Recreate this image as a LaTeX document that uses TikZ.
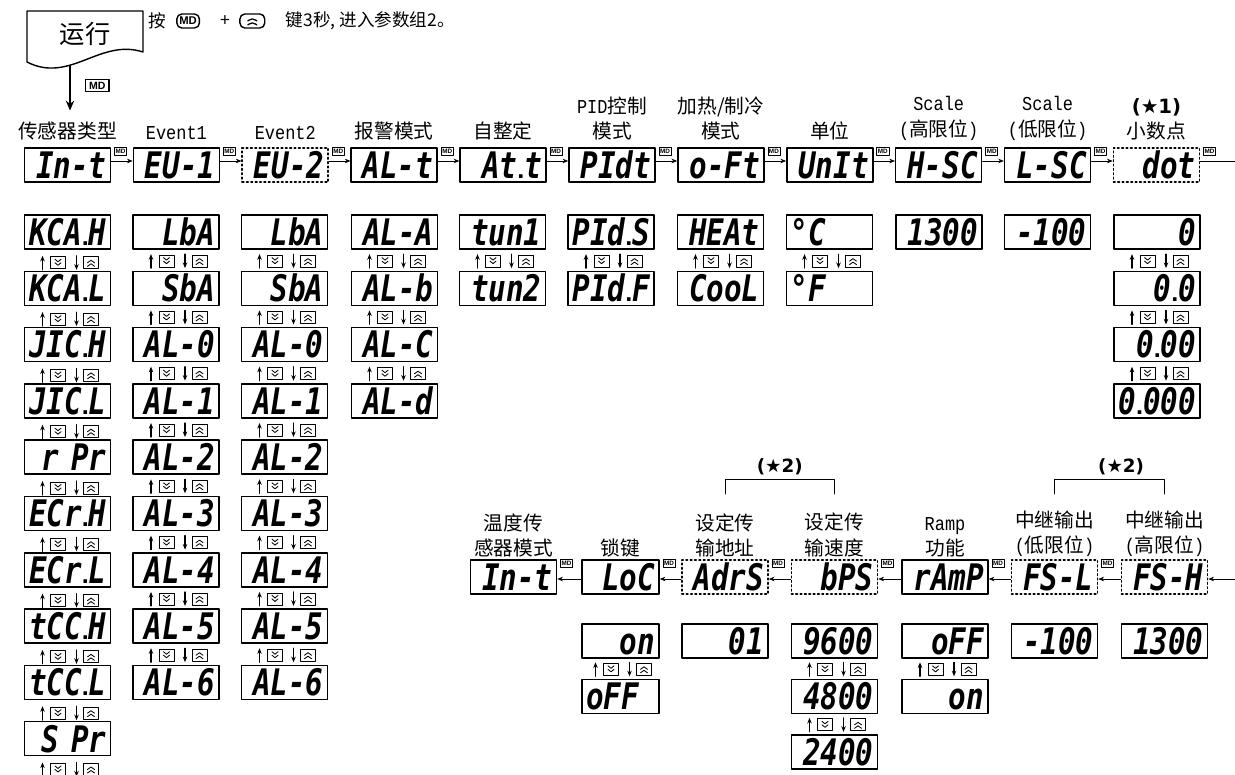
\documentclass[tikz,border=0pt]{standalone}
\usepackage{fontspec}
\setmonofont{Liberation Mono}[FakeStretch=0.86]
\newfontfamily\cjk{Noto Sans CJK SC}
\newfontfamily\segfont{DejaVu Sans Mono Bold Oblique}[FakeStretch=0.8]
\newfontfamily\arial{Liberation Sans}
\newfontfamily\dejavu{DejaVu Sans}
\usetikzlibrary{positioning,arrows.meta}
\newcommand{\segdot}{{\arial\bfseries\fontsize{18}{18}\selectfont.}}
\newcommand{\lat}[1]{{\ttfamily\fontsize{14}{18}\selectfont #1}}

\begin{document}
\begin{tikzpicture}[x=0.025cm, y=-0.025cm, line join=round, line cap=round,
    >={Stealth[length=4pt,width=3.2pt]},
    disp/.style={draw, line width=1.1pt, minimum height=0.85cm, text width=1.95cm,
      inner xsep=0.1cm, inner ysep=0pt, text height=19pt, text depth=0pt, align=right,
      font=\segfont\fontsize{26}{26}\selectfont},
    displ/.style={disp, align=left},
    dispd/.style={disp, dotted, line width=1.2pt},
    dispn/.style={disp, text width=1.725cm},
    lbl/.style={font=\cjk\fontsize{14}{18}\selectfont, align=center, inner sep=0pt},
    captxt/.style={font=\cjk\fontsize{12.5}{15}\selectfont, inner sep=0pt},
    startxt/.style={font=\dejavu\bfseries\fontsize{13}{15}\selectfont, inner sep=0pt},
    md/.style={draw, line width=0.5pt, inner xsep=0.8pt, inner ysep=1.3pt,
      font=\arial\bfseries\fontsize{4.5}{5}\selectfont},
    mdbig/.style={draw, line width=0.8pt, inner xsep=2.5pt, inner ysep=1.8pt,
      font=\arial\bfseries\fontsize{7.5}{8}\selectfont},
    keybox/.style={draw, rounded corners=3.5pt, line width=1pt, inner xsep=1.8pt, inner ysep=2.2pt,
      font=\arial\bfseries\fontsize{8}{8}\selectfont},
    upkey/.style={draw, rounded corners=3.5pt, line width=1pt, minimum width=0.62cm, minimum height=0.35cm,
      path picture={\draw[line width=0.9pt, shift={(path picture bounding box.center)}]
        (-4.5,0) -- (0,-4) -- (4.5,0) (-4.5,4) -- (0,0) -- (4.5,4);}},
    ud/.pic={
      \draw[line width=0.8pt, ->] (-25,7) -- (-25,-7);
      \draw[line width=0.8pt, ->] (9,-7) -- (9,7);
      \draw[line width=0.6pt] (-17,-6) rectangle (-2,6) (16,-6) rectangle (31,6);
      \draw[line width=0.6pt] (-12.5,-3.5) -- (-9.5,-1) -- (-6.5,-3.5) (-12.5,0) -- (-9.5,2.5) -- (-6.5,0)
        (20,3.5) -- (23.5,1) -- (27,3.5) (20,0) -- (23.5,-2.5) -- (27,0);
    }]
\useasboundingbox (0,0) rectangle (1235,775);

% run state and key combination
\draw[line width=1pt] (27,62) -- (27,11) -- (143,11) -- (143,52) .. controls (100,38) and (70,84) .. (27,62);
\node[font=\cjk\fontsize{18}{18}\selectfont] (run) at (85,34) {运行};
\node[captxt, anchor=west] (c1) at (148,21) {按};
\node[keybox, right=0.25cm of c1] (kmd) {MD};
\node[captxt, right=0.5cm of kmd] (plus) {+};
\node[upkey, right=0.22cm of plus] (kup) {};
\node[captxt, right=0.5cm of kup] (c2) {键3秒, 进入参数组2。};

% parameter row
\foreach \txt/\st [count=\i from 0] in {In-t/disp, EU-1/disp, EU-2/dispd, AL-t/disp, At\segdot t/disp,
    PIdt/disp, o-Ft/disp, UnIt/disp, H-SC/disp, L-SC/disp, dot/dispd}
  \node[\st] (t\i) at (67.5+108.9*\i,165) {\txt};
\foreach \lab [count=\i from 0] in {传感器类型, \lat{Event1}, \lat{Event2}, 报警模式, 自整定,
    \lat{PID}控制\\模式, 加热/制冷\\模式, 单位, \lat{Scale}\\\lat{(}高限位\lat{)},
    \lat{Scale}\\\lat{(}低限位\lat{)}, {\dejavu\bfseries (★1)}\\小数点}
  \node[lbl, above=0.17cm of t\i] (L\i) {\lab};
\foreach \i [evaluate=\i as \j using int(\i+1)] in {0,...,9}{
  \draw[->] (t\i.east |- 0,161) -- (t\j.west |- 0,161);
  \node[md, anchor=north west] (m\i) at ([xshift=2pt]t\i.north east) {MD};
}
\coordinate (tout) at (1235,161);
\draw (t10.east |- tout) -- (tout);
\node[md, anchor=north west] (m10) at ([xshift=2pt]t10.north east) {MD};
\coordinate (runout) at (70,66);
\draw[-{Stealth[length=7pt,width=6pt]}, line width=0.8pt, shorten >=0.28cm] (runout) -- (runout |- L0.north)
  node[mdbig, pos=0.35, right=0.375cm] (mdrun) {MD};

% settings
\foreach \txt [count=\k from 0] in {KCA\segdot H, KCA\segdot L, JIC\segdot H, JIC\segdot L, r~Pr,
    ECr\segdot H, ECr\segdot L, tCC\segdot H, tCC\segdot L, S~Pr}{
  \node[disp] (s\k) at (67.5,232+56.3*\k) {\txt};
  \pic[yshift=-0.325cm] at (s\k.south) {ud};
}
\foreach \txt [count=\k from 0] in {LbA, SbA, AL-0, AL-1, AL-2, AL-3, AL-4, AL-5, AL-6}{
  \node[disp] (ea\k) at (176,232+56.3*\k) {\txt};
  \ifnum\k>0 \pic[yshift=0.235cm] at (ea\k.north) {ud}; \fi
}
\foreach \txt [count=\k from 0] in {LbA, SbA, AL-0, AL-1, AL-2, AL-3, AL-4, AL-5, AL-6}{
  \node[disp] (eb\k) at (284.5,232+56.3*\k) {\txt};
  \ifnum\k>0 \pic[yshift=0.235cm] at (eb\k.north) {ud}; \fi
}
\foreach \txt [count=\k from 0] in {AL-A, AL-b, AL-C, AL-d}{
  \node[disp] (al\k) at (394.5,232+56.3*\k) {\txt};
  \ifnum\k>0 \pic[yshift=0.235cm] at (al\k.north) {ud}; \fi
}
\node[disp] (tu0) at (502.5,232) {tun1};
\node[disp] (tu1) at (502.5,288.3) {tun2};
\node[disp] (pd0) at (611,232) {PId\segdot S};
\node[disp] (pd1) at (611,288.3) {PId\segdot F};
\node[disp] (ht0) at (720.5,232) {HEAt};
\node[disp] (ht1) at (720.5,288.3) {CooL};
\node[displ] (un0) at (829.5,232) {°C};
\node[displ] (un1) at (829.5,288.3) {°F};
\foreach \n in {tu1, pd1, ht1, un1}
  \pic[yshift=0.235cm] at (\n.north) {ud};
\node[disp] (hs) at (939,232) {1300};
\node[disp] (ls) at (1047.5,232) {-100};
\foreach \txt [count=\k from 0] in {0, 0\segdot 0, 0\segdot 00, 0\segdot 000}{
  \node[disp] (dp\k) at (1157,232+56.3*\k) {\txt};
  \ifnum\k>0 \pic[yshift=0.235cm] at (dp\k.north) {ud}; \fi
}

% second row, right to left
\foreach \txt/\x/\st [count=\i from 0] in {In-t/513.5/disp, LoC/620.5/dispn, AdrS/725/dispd, bPS/834.5/dispd,
    rAmP/945/disp, FS-L/1054.5/dispd, FS-H/1164.5/dispd}
  \node[\st] (r\i) at (\x,577) {\txt};
\foreach \lab [count=\i from 0] in {温度传\\感器模式, 锁键, 设定传\\输地址, 设定传\\输速度, \lat{Ramp}\\功能,
    中继输出\\\lat{(}低限位\lat{)}, 中继输出\\\lat{(}高限位\lat{)}}
  \node[lbl, above=0.05cm of r\i] (B\i) {\lab};
\coordinate (bin) at (1235,579);
\draw[->] (bin) -- (r6.east |- bin);
\foreach \i [evaluate=\i as \j using int(\i+1)] in {0,...,5}{
  \draw[->] (r\j.west |- bin) -- (r\i.east |- bin);
  \node[md, anchor=north west] (n\i) at ([xshift=2pt]r\i.north east) {MD};
}
\draw[line width=0.7pt] (B2.north |- 0,494) -- (B2.north |- 0,479) -- (B3.north |- 0,479)
  node[startxt, pos=0.5, above=0.1cm] (st1) {(★2)} -- (B3.north |- 0,494);
\draw[line width=0.7pt] (B5.north |- 0,494) -- (B5.north |- 0,479) -- (B6.north |- 0,479)
  node[startxt, pos=0.5, above=0.1cm, xshift=0.29cm] (st2) {(★2)} -- (B6.north |- 0,494);

\node[dispn] (lk0) at (620.5,641) {on};
\node[dispn, align=left] (lk1) at (620.5,696.5) {oFF};
\pic[yshift=0.235cm] at (lk1.north) {ud};
\node[disp] (ad0) at (725,641) {01};
\foreach \txt [count=\k from 0] in {9600, 4800, 2400}{
  \node[disp] (bd\k) at (834.5,641+55.5*\k) {\txt};
  \ifnum\k>0 \pic[yshift=0.235cm] at (bd\k.north) {ud}; \fi
}
\node[disp] (rp0) at (945,641) {oFF};
\node[disp] (rp1) at (945,696.5) {on};
\pic[yshift=0.235cm] at (rp1.north) {ud};
\node[disp] (fl0) at (1054.5,641) {-100};
\node[disp] (fh0) at (1164.5,641) {1300};
\end{tikzpicture}
\end{document}
